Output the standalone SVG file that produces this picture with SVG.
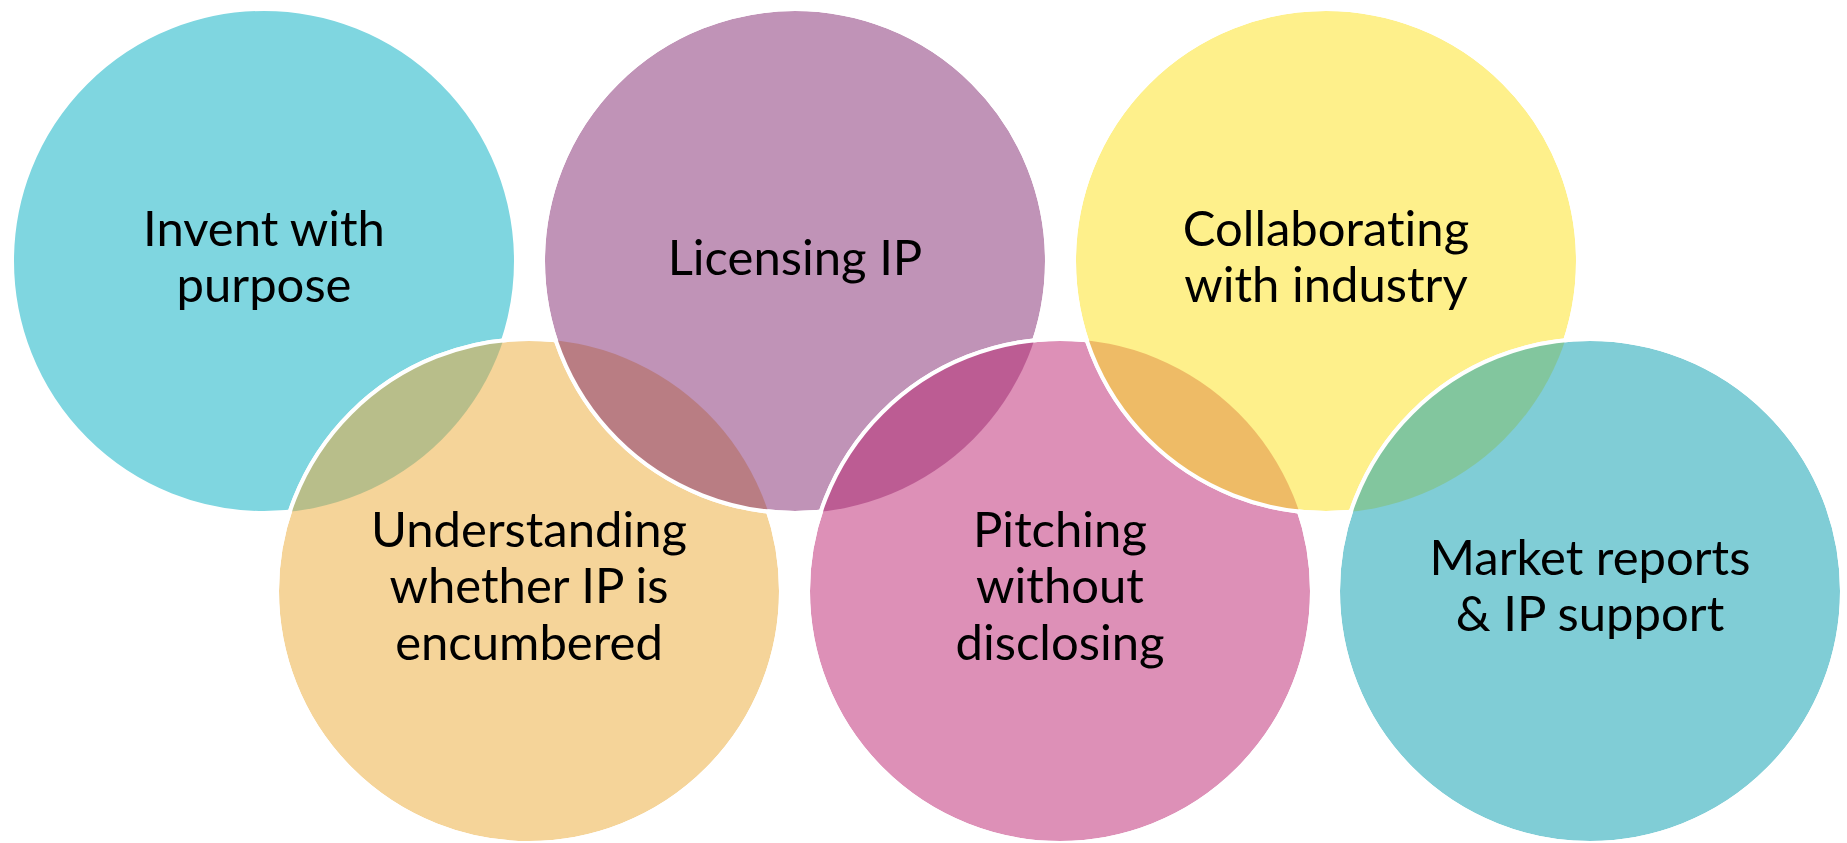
<svg xmlns="http://www.w3.org/2000/svg" width="1847" height="843" viewBox="0 0 1847 843">
<style>
.c{stroke:#fff;stroke-width:4}
.o{fill:none;stroke:#fff;stroke-width:4}
text{font-family:Lato,"Liberation Sans",sans-serif;font-size:49px;fill:#000;text-anchor:middle;font-variant-ligatures:none}
</style>
<defs>
<clipPath id="k4"><circle cx="529" cy="591" r="252"/></clipPath>
<clipPath id="k2"><circle cx="795" cy="261" r="252"/></clipPath>
<clipPath id="k5"><circle cx="1060" cy="591" r="252"/></clipPath>
<clipPath id="k3"><circle cx="1326" cy="261" r="252"/></clipPath>
<clipPath id="k6"><circle cx="1590" cy="591" r="252"/></clipPath>
</defs>
<rect width="1847" height="843" fill="#fff"/>
<g id="node-invent">
<circle class="c" cx="264" cy="261" r="252" fill="#7FD6E0"/>
</g>
<g id="node-understanding">
<circle class="c" cx="529" cy="591" r="252" fill="#F5D499"/>
<circle cx="264" cy="261" r="252" fill="#B8BE8A" clip-path="url(#k4)"/>
<circle class="o" cx="529" cy="591" r="252"/>
</g>
<g id="node-licensing">
<circle class="c" cx="795" cy="261" r="252" fill="#C093B7"/>
<circle cx="529" cy="591" r="252" fill="#B97D83" clip-path="url(#k2)"/>
<circle class="o" cx="795" cy="261" r="252"/>
</g>
<g id="node-pitching">
<circle class="c" cx="1060" cy="591" r="252" fill="#DD90B7"/>
<circle cx="795" cy="261" r="252" fill="#BC5C93" clip-path="url(#k5)"/>
<circle class="o" cx="1060" cy="591" r="252"/>
</g>
<g id="node-collaborating">
<circle class="c" cx="1326" cy="261" r="252" fill="#FEF08B"/>
<circle cx="1060" cy="591" r="252" fill="#EEBB66" clip-path="url(#k3)"/>
<circle class="o" cx="1326" cy="261" r="252"/>
</g>
<g id="node-market">
<circle class="c" cx="1590" cy="591" r="252" fill="#80CDD6"/>
<circle cx="1326" cy="261" r="252" fill="#82C69E" clip-path="url(#k6)"/>
<circle class="o" cx="1590" cy="591" r="252"/>
</g>
<g id="labels">
<text x="264" y="246">Invent with</text>
<text x="264" y="302">purpose</text>
<text x="529" y="547">Understanding</text>
<text x="529" y="603">whether IP is</text>
<text x="529" y="660">encumbered</text>
<text x="795" y="275">Licensing IP</text>
<text x="1060" y="547">Pitching</text>
<text x="1060" y="603">without</text>
<text x="1060" y="660">disclosing</text>
<text x="1326" y="246">Collaborating</text>
<text x="1326" y="302">with industry</text>
<text x="1590" y="575">Market reports</text>
<text x="1590" y="631">&amp; IP support</text>
</g>
</svg>
